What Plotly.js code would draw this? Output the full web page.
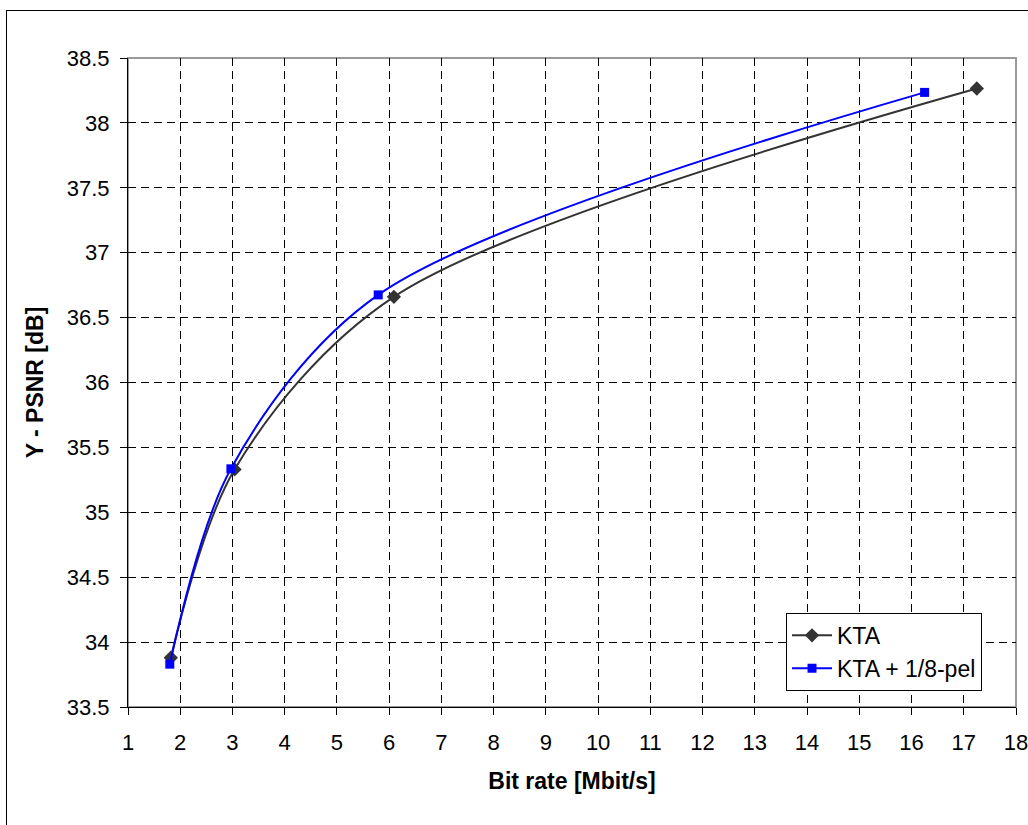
<!DOCTYPE html>
<html>
<head>
<meta charset="utf-8">
<script src="https://cdn.plot.ly/plotly-3.0.1.min.js"></script>
<style>
  html, body { margin: 0; padding: 0; background: #fff; }
  #wrap { position: relative; width: 1028px; height: 825px; overflow: hidden; }
  #chart { width: 1028px; height: 825px; }
  #frame { position: absolute; left: 6px; top: 10px; width: 1030px; height: 830px; border: 1px solid #000; pointer-events: none; }
</style>
</head>
<body>
<div id="wrap">
  <div id="chart"></div>
  <div id="frame"></div>
</div>
<script>
const ktaRate = [1.82, 3.04, 6.09, 17.25];
const ktaPsnr = [33.88, 35.33, 36.66, 38.265];
const pelRate = [1.80, 2.97, 5.79, 16.25];
const pelPsnr = [33.83, 35.335, 36.675, 38.235];
const seriesNames = ["KTA", "KTA + 1/8-pel"];
const xTicks = [1,2,3,4,5,6,7,8,9,10,11,12,13,14,15,16,17,18];
const yTicks = [33.5,34,34.5,35,35.5,36,36.5,37,37.5,38,38.5];

const font = "Arial, 'Liberation Sans', sans-serif";

const traces = [
  {
    x: ktaRate, y: ktaPsnr, name: seriesNames[0], type: "scatter", mode: "lines+markers",
    line: { color: "#333333", width: 2, shape: "spline", smoothing: 0.9 },
    marker: { symbol: "diamond", size: 11, color: "#333333" }
  },
  {
    x: pelRate, y: pelPsnr, name: seriesNames[1], type: "scatter", mode: "lines+markers",
    line: { color: "#0000ff", width: 2, shape: "spline", smoothing: 0.9 },
    marker: { symbol: "square", size: 9, color: "#0000ff" }
  }
];

const layout = {
  width: 1028, height: 825,
  margin: { l: 128, r: 12, t: 58, b: 118 },
  paper_bgcolor: "#ffffff", plot_bgcolor: "#ffffff",
  font: { family: font, size: 22, color: "#000" },
  showlegend: true,
  legend: {
    x: 0.741, y: 0.145, xanchor: "left", yanchor: "top",
    bgcolor: "#ffffff", bordercolor: "#000", borderwidth: 1,
    font: { family: font, size: 23, color: "#000" },
    tracegroupgap: 0, itemwidth: 40
  },
  xaxis: {
    range: [1, 18], tickmode: "array", tickvals: xTicks,
    ticks: "outside", ticklen: 7, tickcolor: "#000", tickwidth: 1,
    showline: true, linecolor: "#000", linewidth: 1,
    showgrid: true, gridcolor: "#000", griddash: "8px,5px", gridwidth: 1,
    zeroline: false, ticklabeloverflow: "allow", ticklabelstandoff: 9,
    tickfont: { family: font, size: 22 },
    title: { text: "<b>Bit rate [Mbit/s]</b>", font: { family: font, size: 23 }, standoff: 18 }
  },
  yaxis: {
    range: [33.5, 38.5], tickmode: "array", tickvals: yTicks,
    ticktext: yTicks.map(v => String(v)),
    ticks: "outside", ticklen: 7, tickcolor: "#000", tickwidth: 1,
    showline: true, linecolor: "#000", linewidth: 1,
    showgrid: true, gridcolor: "#000", griddash: "8px,5px", gridwidth: 1,
    zeroline: false, ticklabelstandoff: 6,
    tickfont: { family: font, size: 22 },
    title: { text: "<b>Y - PSNR [dB]</b>", font: { family: font, size: 23 }, standoff: 16 }
  },
  shapes: [
    { type: "rect", xref: "paper", yref: "paper", x0: 0, x1: 1, y0: 0, y1: 1,
      line: { color: "#999999", width: 2 }, layer: "below" }
  ]
};

Plotly.newPlot("chart", traces, layout, { displayModeBar: false, staticPlot: true });
</script>
</body>
</html>
